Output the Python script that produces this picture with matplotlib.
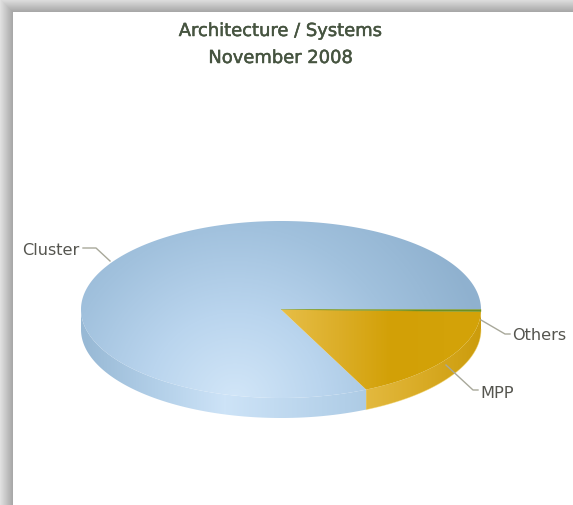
import matplotlib
matplotlib.use("Agg")
import matplotlib.pyplot as plt
import matplotlib.patheffects as pe
import numpy as np
from matplotlib.colors import LinearSegmentedColormap
from matplotlib.patches import Polygon

categories = ["Others", "MPP", "Cluster"]
shares = [0.4, 17.6, 82.0]
title_lines = ["Architecture / Systems", "November 2008"]

W, H = 573, 505
CX, CY = 281, 309.5
RX, RY = 200, 88.5
DEPTH = 20


def rim(t0, t1, n=200):
    t = np.radians(np.linspace(t0, t1, n))
    return np.column_stack([CX + RX * np.cos(t), CY + RY * np.sin(t)])


def gradient(ax, patch, field, colors):
    cmap = LinearSegmentedColormap.from_list("g", colors)
    im = ax.imshow(field, cmap=cmap, vmin=0, vmax=1, extent=(0, W, H, 0),
                   interpolation="bilinear", zorder=patch.get_zorder())
    ax.add_patch(patch)
    patch.set_visible(False)
    im.set_clip_path(Polygon(patch.get_xy(), transform=ax.transData))


fig = plt.figure(figsize=(W / 100, H / 100), dpi=100, facecolor="white")
ax = fig.add_axes([0, 0, 1, 1])
ax.set_xlim(0, W)
ax.set_ylim(H, 0)
ax.axis("off")

xx, yy = np.meshgrid(np.arange(W) + 0.5, np.arange(H) + 0.5)

# drop shadow of the panel along the top and left edges
edge = np.maximum(13 - xx, 12 - yy)
shade = np.where(edge > 0, 0.65 + 0.24 * edge / 13, 1.0)
ax.imshow(np.dstack([shade] * 3), extent=(0, W, H, 0), zorder=0)

# wedge boundaries, clockwise from the right-hand side
angles = np.cumsum([0] + shares) / sum(shares) * 360
a_others, a_mpp, a_cluster = angles[1], angles[2], angles[3]

# side wall, brightest just left of the middle
front = rim(a_mpp, 180)
wall_blue = Polygon(np.vstack([front, (front + [0, DEPTH])[::-1]]), zorder=2)
wall_field = np.where(xx < 225, (225 - xx) / 140, (xx - 225) / 240)
gradient(ax, wall_blue, np.clip(wall_field, 0, 1),
         ["#cde3f7", "#b2cfe8", "#98b9d5"])
front = rim(0, a_mpp)
wall_gold = Polygon(np.vstack([front, (front + [0, DEPTH])[::-1]]), zorder=2)
gradient(ax, wall_gold, np.clip((xx - 365) / 116, 0, 1),
         ["#e3b93f", "#d9ab25", "#cc9c0c"])
ax.plot(*(front + [0, DEPTH]).T, color="#f2d468", linewidth=0.6, alpha=0.5, zorder=3)

# top surface
centre = [[CX, CY]]
dist = np.hypot((xx - 235) / 260, (yy - 400) / 260)
top_blue = Polygon(np.vstack([centre, rim(a_mpp, a_cluster, 400)]), zorder=3)
gradient(ax, top_blue, np.clip(dist, 0, 1),
         ["#d2e6f8", "#bad5ee", "#a1c1dd", "#8fb1cf"])
top_gold = Polygon(np.vstack([centre, rim(a_others, a_mpp)]), zorder=3)
gradient(ax, top_gold, np.clip((xx - 285) / 160, 0, 1),
         ["#e6bd45", "#dcae28", "#d2a006", "#d3a208"])
ax.add_patch(Polygon(np.vstack([centre, rim(0, a_others, 10)]), closed=True,
                     facecolor="#6f8f20", edgecolor="#7f9a20", linewidth=0.3, zorder=4))

# label leaders
leaders = {
    "Cluster": ([110, 96, 83], [261, 248, 248]),
    "MPP": ([446, 473, 478], [365, 390, 390]),
    "Others": ([481, 505, 510], [320, 334, 334]),
}
for name, (lx, ly) in leaders.items():
    ax.plot(lx, ly, color="#a8a89a", linewidth=1, zorder=5)

label_pos = {"Cluster": (79, 250.5, "right"), "MPP": (480, 393.5, "left"),
             "Others": (512, 335.5, "left")}
for name in categories:
    x, y, ha = label_pos[name]
    ax.text(x, y, name, ha=ha, va="center", fontsize=11.6, color="#55554f",
            family="DejaVu Sans", zorder=6)

for line, y in zip(title_lines, [31, 58]):
    ax.text(280.5, y, line, ha="center", va="center", fontsize=12.9, color="#465440",
            family="DejaVu Sans", zorder=6,
            path_effects=[pe.withStroke(linewidth=0.35, foreground="#465440")])

fig.savefig("out.png", dpi=100)
